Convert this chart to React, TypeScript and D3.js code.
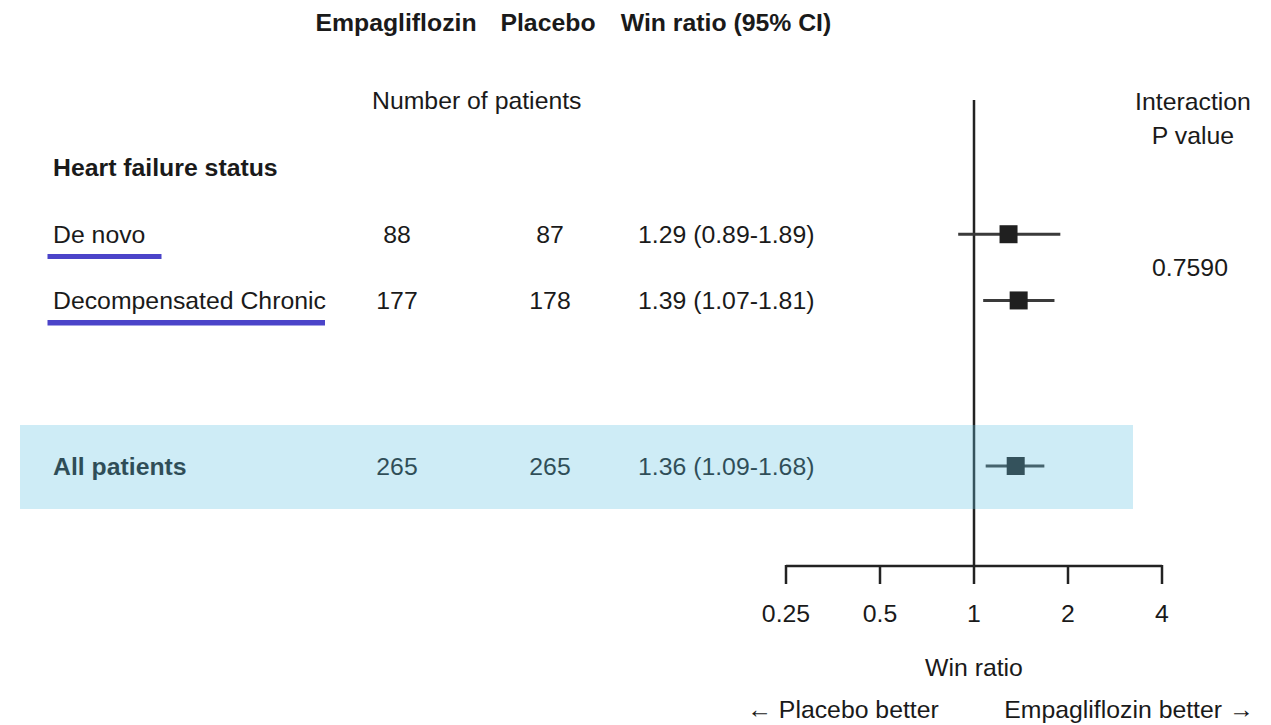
import React from 'react';
import * as d3 from 'd3';

// subgroup rows
const subgroups = ['De novo', 'Decompensated Chronic'];
const empaN = [88, 177];
const placeboN = [87, 178];
const winRatio = [1.29, 1.39];
const ciLow = [0.89, 1.07];
const ciHigh = [1.89, 1.81];

// overall row
const overallLabel = 'All patients';
const overallEmpaN = 265;
const overallPlaceboN = 265;
const overallWin = 1.36;
const overallLow = 1.09;
const overallHigh = 1.68;

const tickValues = [0.25, 0.5, 1, 2, 4];
const pInteraction = '0.7590';
const groupTitle = 'Heart failure status';

const W = 1271;
const H = 725;
const FONT = '"Liberation Sans", Arial, Helvetica, sans-serif';
const FS = 24.8;
const INK = '#1a1a1a';

const x = d3.scaleLog().base(2).domain([0.25, 4]).range([786, 1162]);
// row index -> vertical centre (0 = group title, 4.5 = all patients)
const y = d3.scaleLinear().domain([0, 4.5]).range([168, 466]);

const fmt = (v: number) => v.toFixed(2);

const App = () => {
  const rows = subgroups.map((name, i) => ({
    name,
    e: empaN[i],
    p: placeboN[i],
    est: winRatio[i],
    lo: ciLow[i],
    hi: ciHigh[i],
    yc: y(i + 1),
  }));
  const all = { name: overallLabel, e: overallEmpaN, p: overallPlaceboN, est: overallWin, lo: overallLow, hi: overallHigh, yc: y(4.5) };
  const axisY = 566;
  const sq = 18;

  const textRow = (r: any, bold: boolean, key: string) => (
    <g key={key} fontSize={FS} fill={INK}>
      <text x={53} y={r.yc + 8.5} fontWeight={bold ? 'bold' : 'normal'}>{r.name}</text>
      <text x={397} y={r.yc + 8.5} textAnchor="middle">{r.e}</text>
      <text x={550} y={r.yc + 8.5} textAnchor="middle">{r.p}</text>
      <text x={638} y={r.yc + 8.5}>{`${fmt(r.est)} (${fmt(r.lo)}-${fmt(r.hi)})`}</text>
    </g>
  );

  const markRow = (r: any, key: string) => (
    <g key={key}>
      <line x1={x(r.lo)} x2={x(r.hi)} y1={r.yc} y2={r.yc} stroke="#3a3a3a" strokeWidth={3} />
      <rect x={x(r.est) - sq / 2} y={r.yc - sq / 2} width={sq} height={sq} fill="#202020" />
    </g>
  );

  return (
    <svg width={W} height={H} style={{ position: 'absolute', left: 0, top: 0, fontFamily: FONT }}>
      <rect width={W} height={H} fill="#fff" />

      {/* column headers */}
      <g fontSize={FS} fontWeight="bold" fill={INK}>
        <text x={396} y={31} textAnchor="middle">Empagliflozin</text>
        <text x={548} y={31} textAnchor="middle">Placebo</text>
        <text x={726} y={31} textAnchor="middle">Win ratio (95% CI)</text>
      </g>
      <text x={372} y={109} fontSize={FS} fill={INK}>Number of patients</text>
      <g fontSize={FS} fill={INK} textAnchor="middle">
        <text x={1193} y={110}>Interaction</text>
        <text x={1193} y={144}>P value</text>
        <text x={1190} y={276}>{pInteraction}</text>
      </g>

      <text x={53} y={y(0) + 8} fontSize={FS} fontWeight="bold" fill={INK}>{groupTitle}</text>

      {rows.map((r, i) => textRow(r, false, 't' + i))}
      {/* underlines under subgroup names */}
      <rect x={47.5} y={254} width={114} height={5} fill="#4b44c9" />
      <rect x={47.5} y={320} width={277.5} height={5.5} fill="#4b44c9" />

      {textRow(all, true, 'tall')}

      {/* reference line at 1 */}
      <line x1={x(1)} x2={x(1)} y1={100} y2={axisY} stroke="#222" strokeWidth={2.5} />

      {rows.map((r, i) => markRow(r, 'm' + i))}
      {markRow(all, 'mall')}

      {/* highlight band over all patients */}
      <rect x={20} y={425} width={1113} height={84} fill="rgb(96,194,225)" fillOpacity={0.31} />

      {/* axis */}
      <g stroke="#222" strokeWidth={2.5} fill="none">
        <line x1={x(0.25)} x2={x(4)} y1={axisY} y2={axisY} />
        {tickValues.map((t) => (
          <line key={t} x1={x(t)} x2={x(t)} y1={axisY - 1} y2={axisY + 18} />
        ))}
      </g>
      <g fontSize={FS} fill={INK} textAnchor="middle">
        {tickValues.map((t) => (
          <text key={t} x={x(t)} y={622}>{String(t)}</text>
        ))}
        <text x={x(1)} y={676}>Win ratio</text>
        <text x={843} y={718}>← Placebo better</text>
        <text x={1129} y={718}>Empagliflozin better →</text>
      </g>
    </svg>
  );
};

export default App;
